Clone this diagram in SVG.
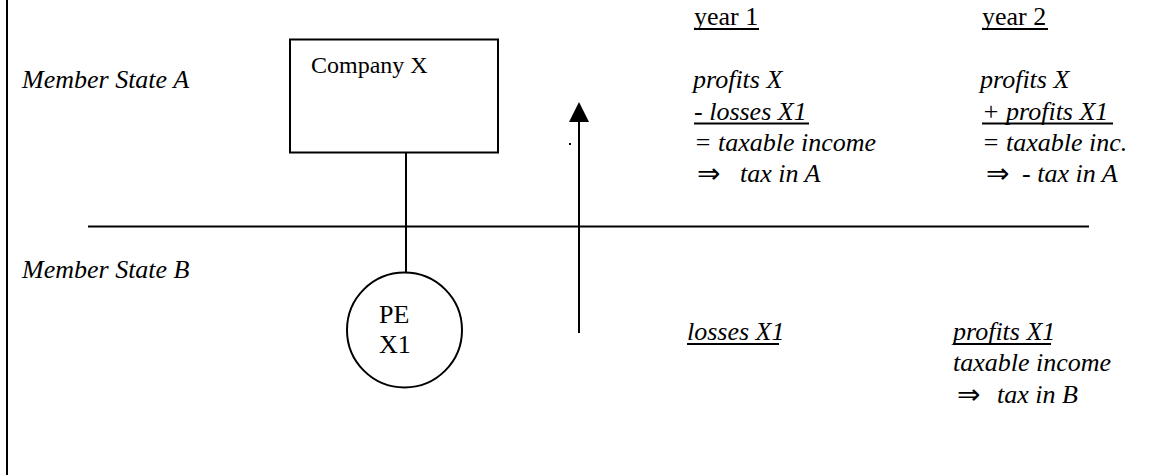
<svg xmlns="http://www.w3.org/2000/svg" width="1165" height="475" viewBox="0 0 1165 475">
<defs>
<style>
.t{font-family:"Liberation Serif","Times New Roman",serif;font-size:26px;fill:#000}
.c{font-size:24px}
.i{font-style:italic}
.ar{font-family:"DejaVu Sans",sans-serif;font-size:28px;fill:#000}
.ln{stroke:#000;stroke-width:2;fill:none}
.ul{stroke:#000;stroke-width:1.8}
</style>
</defs>
<rect width="1165" height="475" fill="#fff"/>
<line class="ln" x1="7" y1="0" x2="7" y2="475"/>
<line class="ln" x1="88" y1="226.5" x2="1089" y2="226.5"/>
<text class="t i" x="22" y="88">Member State A</text>
<text class="t i" x="22" y="278">Member State B</text>
<g id="companyX">
<rect class="ln" x="290" y="39.5" width="208" height="113"/>
<text class="t c" x="311" y="73">Company X</text>
</g>
<g id="peX1">
<circle class="ln" cx="404.5" cy="330" r="57.5"/>
<text class="t" x="379" y="323">PE</text>
<text class="t" x="379" y="353">X1</text>
</g>
<g id="connectors">
<line class="ln" x1="406" y1="153" x2="406" y2="272.5"/>
<line class="ln" x1="579" y1="333" x2="579" y2="121"/>
<polygon points="579,102 569,122 589,122" fill="#000"/>
</g>
<rect x="569" y="143" width="2" height="2" fill="#000"/>
<g id="year1">
<text class="t" x="694" y="25">year 1</text>
<line class="ul" x1="694" y1="29" x2="759" y2="29"/>
<text class="t i" x="693" y="88">profits X</text>
<text class="t i" x="694" y="120">- losses X1</text>
<line class="ul" x1="694" y1="123.5" x2="809" y2="123.5"/>
<text class="t i" x="694" y="151">= taxable income</text>
<text class="ar" x="697" y="183">⇒</text>
<text class="t i" x="740" y="182">tax in A</text>
<text class="t i" x="687" y="340">losses X1</text>
<line class="ul" x1="687" y1="344" x2="779" y2="344"/>
</g>
<g id="year2">
<text class="t" x="982" y="25">year 2</text>
<line class="ul" x1="982" y1="29" x2="1048" y2="29"/>
<text class="t i" x="980" y="88">profits X</text>
<text class="t i" x="982" y="120">+ profits X1</text>
<line class="ul" x1="982" y1="123.5" x2="1113" y2="123.5"/>
<text class="t i" x="982" y="151">= taxable inc.</text>
<text class="ar" x="986" y="183">⇒</text>
<text class="t i" x="1022" y="182">- tax in A</text>
<text class="t i" x="953" y="340">profits X1</text>
<line class="ul" x1="953" y1="344" x2="1051" y2="344"/>
<text class="t i" x="953" y="371">taxable income</text>
<text class="ar" x="957" y="404">⇒</text>
<text class="t i" x="997" y="403">tax in B</text>
</g>
</svg>
